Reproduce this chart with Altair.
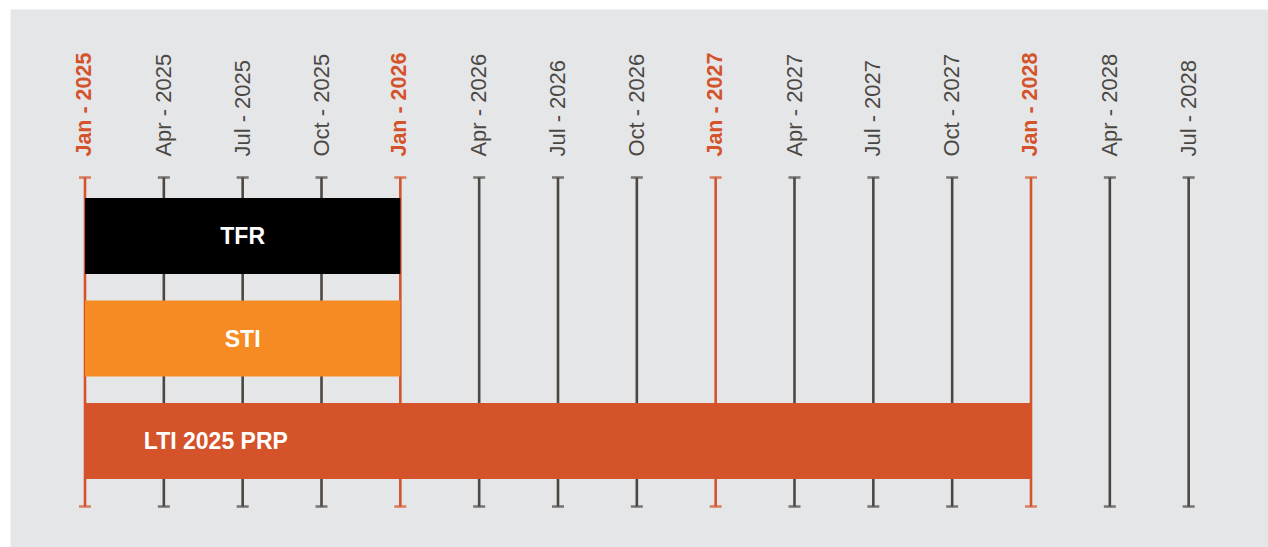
import altair as alt
import pandas as pd

# ---- data ----
tick_labels = ["Jan - 2025", "Apr - 2025", "Jul - 2025", "Oct - 2025",
               "Jan - 2026", "Apr - 2026", "Jul - 2026", "Oct - 2026",
               "Jan - 2027", "Apr - 2027", "Jul - 2027", "Oct - 2027",
               "Jan - 2028", "Apr - 2028", "Jul - 2028"]
tick_pos = list(range(len(tick_labels)))          # quarter index from Jan 2025
tick_kind = ["year" if t.startswith("Jan") else "quarter" for t in tick_labels]

tasks = ["TFR", "STI", "LTI 2025 PRP"]
task_row = [0, 1, 2]
task_start = [0, 0, 0]        # quarter index
task_end = [4, 4, 12]         # quarter index
task_label_pos = [2, 2, 1.66]
task_colors = ["#000000", "#f68b23", "#d4532b"]

# ---- layout constants (in scale units) ----
X_DOMAIN = [-0.9514, 15.0063]
Y_DOMAIN = [-2.2146, 3.0341]
RULE_TOP = -0.5707
RULE_BOTTOM = 2.639
LABEL_Y = -0.775
BAR_HALF = 0.3707

ORANGE = "#d4532b"
DARK = "#4b4844"
FONT = "Liberation Sans"

ticks = pd.DataFrame({"pos": tick_pos, "label": tick_labels, "kind": tick_kind})
ticks["top"] = RULE_TOP
ticks["bottom"] = RULE_BOTTOM
ticks["laby"] = LABEL_Y

bars = pd.DataFrame({"task": tasks, "row": task_row, "start": task_start,
                     "end": task_end, "lpos": task_label_pos})
bars["y0"] = bars["row"] - BAR_HALF
bars["y1"] = bars["row"] + BAR_HALF

xs = alt.Scale(domain=X_DOMAIN, nice=False, zero=False)
ys = alt.Scale(domain=Y_DOMAIN, nice=False, zero=False, reverse=True)
col = alt.Color("kind:N", scale=alt.Scale(domain=["year", "quarter"], range=[ORANGE, DARK]), legend=None)

base_t = alt.Chart(ticks)

rules = base_t.mark_rule(strokeWidth=2.6).encode(
    x=alt.X("pos:Q", scale=xs, axis=None),
    y=alt.Y("top:Q", scale=ys, axis=None),
    y2="bottom:Q",
    color=col,
)
caps_top = base_t.mark_tick(orient="horizontal", size=12, thickness=2.6).encode(
    x=alt.X("pos:Q", scale=xs, axis=None),
    y=alt.Y("top:Q", scale=ys, axis=None),
    color=col,
)
caps_bot = base_t.mark_tick(orient="horizontal", size=12, thickness=2.6).encode(
    x=alt.X("pos:Q", scale=xs, axis=None),
    y=alt.Y("bottom:Q", scale=ys, axis=None),
    color=col,
)
labels_q = base_t.transform_filter(alt.datum.kind == "quarter").mark_text(
    angle=270, align="left", baseline="middle", font=FONT, fontSize=22, color=DARK
).encode(
    x=alt.X("pos:Q", scale=xs, axis=None),
    y=alt.Y("laby:Q", scale=ys, axis=None),
    text="label:N",
)
labels_y = base_t.transform_filter(alt.datum.kind == "year").mark_text(
    angle=270, align="left", baseline="middle", font=FONT, fontSize=21.5,
    fontWeight="bold", color=ORANGE
).encode(
    x=alt.X("pos:Q", scale=xs, axis=None),
    y=alt.Y("laby:Q", scale=ys, axis=None),
    text="label:N",
)

base_b = alt.Chart(bars)
bar_marks = base_b.mark_rect().encode(
    x=alt.X("start:Q", scale=xs, axis=None),
    x2="end:Q",
    y=alt.Y("y0:Q", scale=ys, axis=None),
    y2="y1:Q",
    color=alt.Color("task:N", scale=alt.Scale(domain=tasks, range=task_colors), legend=None),
)
bar_text = base_b.mark_text(font=FONT, fontSize=23, fontWeight="bold", color="white",
                            align="center", baseline="middle", dy=1).encode(
    x=alt.X("lpos:Q", scale=xs, axis=None),
    y=alt.Y("row:Q", scale=ys, axis=None),
    text="task:N",
)

chart = alt.layer(rules, caps_top, caps_bot, labels_q, labels_y, bar_marks, bar_text).resolve_scale(
    color="independent"
).properties(
    width=1258, height=538,
    padding={"left": 10, "top": 9, "right": 0, "bottom": 0},
    autosize=alt.AutoSizeParams(type="none"),
    background="white",
).configure_view(fill="#e5e6e8", stroke="transparent")

chart.save("out.html", embed_options={"renderer": "svg", "actions": False})
